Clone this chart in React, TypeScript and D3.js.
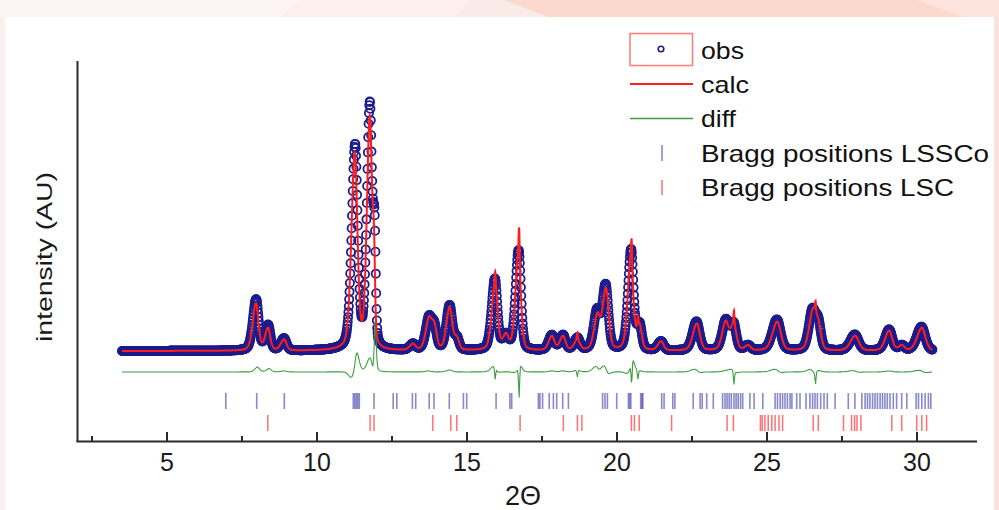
import React from "react";
import * as d3 from "d3";

// ---- data ----
const obsPeakPos = [7.97, 8.37, 8.9, 11.27, 11.76, 11.92, 13.2, 13.72, 13.9, 14.42, 14.66, 15.93, 16.3, 16.72, 17.83, 18.2, 18.68, 19.33, 19.62, 20.47, 20.75, 21.47, 22.65, 23.62, 23.88, 24.37, 25.33, 26.5, 26.7, 27.93, 29.07, 29.5, 30.15];
const obsPeakHeight = [51, 25, 12, 203, 243, 100, 6, 27, 25, 44, 12, 71, 14, 100, 15, 15, 12, 36, 65, 100, 25, 9, 29, 28, 27, 5, 31, 34, 30, 16, 21, 5, 24];
const obsPeakFwhm = [0.22, 0.2, 0.22, 0.23, 0.2, 0.1, 0.22, 0.22, 0.22, 0.22, 0.2, 0.22, 0.22, 0.21, 0.22, 0.22, 0.22, 0.22, 0.24, 0.21, 0.2, 0.22, 0.27, 0.24, 0.24, 0.22, 0.32, 0.24, 0.24, 0.32, 0.27, 0.22, 0.32];

const calcPeakPos = [7.965, 8.365, 8.9, 11.26, 11.76, 11.9, 13.2, 13.72, 13.9, 14.42, 14.66, 15.935, 15.94, 16.3, 16.715, 16.74, 17.83, 18.2, 18.68, 18.68, 19.34, 19.63, 20.46, 20.49, 20.75, 20.7, 21.47, 22.66, 23.62, 23.89, 23.9, 24.37, 25.34, 26.51, 26.7, 26.62, 27.94, 29.07, 29.5, 30.16];
const calcPeakHeight = [47, 22, 11, 195, 230, 72, 6, 26, 25, 42, 12, 66, 12, 14, 95, 32, 14, 14, 10, 7, 32, 61, 92, 24, 24, 9, 9, 27, 27, 25, 14, 5, 29, 33, 28, 12, 15, 20, 5, 23];
const calcPeakFwhm = [0.22, 0.2, 0.22, 0.23, 0.2, 0.09, 0.22, 0.22, 0.22, 0.22, 0.2, 0.22, 0.04, 0.22, 0.21, 0.04, 0.22, 0.22, 0.22, 0.04, 0.22, 0.24, 0.21, 0.04, 0.2, 0.04, 0.22, 0.27, 0.24, 0.24, 0.04, 0.22, 0.32, 0.24, 0.24, 0.04, 0.32, 0.27, 0.22, 0.32];

const braggLSSCo = [6.96, 7.99, 8.91, 11.21, 11.26, 11.31, 11.36, 11.41, 11.9, 12.54, 12.66, 13.18, 13.29, 13.74, 13.9, 14.41, 14.88, 14.99, 15.97, 16.43, 16.49, 17.38, 17.43, 17.52, 17.74, 17.88, 17.99, 18.19, 18.38, 19.52, 19.6, 19.68, 19.99, 20.38, 20.42, 20.46, 20.79, 20.83, 20.86, 21.49, 21.57, 21.86, 21.93, 22.54, 22.77, 22.84, 22.99, 23.21, 23.52, 23.6, 23.67, 23.74, 23.81, 23.9, 23.97, 24.04, 24.12, 24.19, 24.43, 24.57, 24.86, 25.27, 25.35, 25.44, 25.52, 25.6, 25.68, 25.77, 25.83, 25.99, 26.1, 26.3, 26.43, 26.52, 26.6, 26.68, 26.79, 26.9, 27.01, 27.27, 27.71, 27.93, 28.16, 28.27, 28.35, 28.43, 28.52, 28.6, 28.68, 28.77, 28.85, 28.93, 29.01, 29.1, 29.21, 29.32, 29.49, 29.66, 29.97, 30.05, 30.16, 30.27, 30.38, 30.46];
const braggLSC = [8.36, 11.77, 11.9, 13.86, 14.46, 14.66, 16.77, 18.21, 18.68, 18.83, 20.48, 20.58, 20.74, 21.82, 23.67, 23.88, 24.78, 24.84, 24.93, 25.04, 25.16, 25.27, 25.4, 25.52, 26.54, 26.71, 27.55, 27.82, 27.92, 28.0, 28.13, 29.16, 29.49, 29.99, 30.16, 30.32];

const xMajorTicks = [5, 10, 15, 20, 25, 30];
const xMinorTicks = [2.5, 7.5, 12.5, 17.5, 22.5, 27.5];
const scanStart = 3.5;
const scanEnd = 30.52;
const scanStep = 0.012;
const calcStep = 0.005;
const diffStep = 0.02;
const diffOffset = -21;

const legendLabels = ["obs", "calc", "diff", "Bragg positions LSSCo", "Bragg positions LSC"];

// ---- peak shape (asymmetric pseudo-Voigt) ----
const ETA = 0.32;
const ASYM_LOW = 1.15;
const ASYM_HIGH = 0.9;
function pv(x: number, pos: number, h: number, w: number) {
  const ww = x < pos ? w * ASYM_LOW : w * ASYM_HIGH;
  const t = (x - pos) / ww;
  const L = 1 / (1 + 4 * t * t);
  const G = Math.exp(-4 * Math.LN2 * t * t);
  return h * (ETA * L + (1 - ETA) * G);
}
function profile(x: number, pos: number[], hs: number[], ws: number[]) {
  let s = 0;
  for (let i = 0; i < pos.length; i++) s += pv(x, pos[i], hs[i], ws[i]);
  return s;
}

const W = 999, H = 510;
const x = d3.scaleLinear().domain([2, 32]).range([77, 977]);
const y = d3.scaleLinear().domain([-90, 290]).range([441, 61]);

const obsX = d3.range(scanStart, scanEnd, scanStep);
const obsY = obsX.map((v) => profile(v, obsPeakPos, obsPeakHeight, obsPeakFwhm));
const calcX = d3.range(scanStart, scanEnd, calcStep);
const calcY = calcX.map((v) => profile(v, calcPeakPos, calcPeakHeight, calcPeakFwhm));
const diffX = d3.range(scanStart, scanEnd, diffStep);
const diffY = diffX.map((v) => profile(v, obsPeakPos, obsPeakHeight, obsPeakFwhm) - profile(v, calcPeakPos, calcPeakHeight, calcPeakFwhm));

const calcLine = d3.line<number>().x((_, i) => x(calcX[i])).y((d) => y(d));
const diffLine = d3.line<number>().x((_, i) => x(diffX[i])).y((d) => y(d + diffOffset));

const NAVY = "#1c1c8c";
const RED = "#ff1e1e";
const GREEN = "#3f9e3f";
const FONT = "'Liberation Sans', Arial, sans-serif";

export default function App() {
  return (
    <svg width={W} height={H} style={{ position: "absolute", left: 0, top: 0 }} fontFamily={FONT}>
      {/* decorative frame */}
      <rect x={0} y={0} width={W} height={H} fill="#fcefec" />
      <polygon points="0,0 300,0 280,17 0,17" fill="#fdf5f3" />
      <polygon points="470,0 504,0 548,17 455,17" fill="#fbebe8" />
      <polygon points="504,0 918,0 963,17 548,17" fill="#fcd9cd" />
      <polygon points="918,0 999,0 999,17 963,17" fill="#fde4dc" />
      <rect x={994} y={17} width={5} height={493} fill="#fbe2dc" />
      <rect x={0} y={17} width={5} height={493} fill="#fcf0ee" />
      <rect x={5} y={17} width={989} height={493} fill="#ffffff" />

      {/* axes */}
      <line x1={77.5} y1={61} x2={77.5} y2={442} stroke="#2a2a2a" strokeWidth={2} />
      <line x1={76.5} y1={441.5} x2={977} y2={441.5} stroke="#2a2a2a" strokeWidth={2} />
      {xMajorTicks.map((t) => (
        <g key={"M" + t}>
          <line x1={x(t)} x2={x(t)} y1={441} y2={432} stroke="#2a2a2a" strokeWidth={2} />
          <text x={x(t)} y={471} textAnchor="middle" fontSize={25} fill="#1a1a1a">{t}</text>
        </g>
      ))}
      {xMinorTicks.map((t) => (
        <line key={"m" + t} x1={x(t)} x2={x(t)} y1={441} y2={436} stroke="#2a2a2a" strokeWidth={2} />
      ))}
      <text x={505} y={505} fontSize={27} fill="#1a1a1a">2Θ</text>
      <text transform="translate(52,257) rotate(-90)" textAnchor="middle" fontSize={22} fill="#1a1a1a" textLength={170} lengthAdjust="spacingAndGlyphs">intensity (AU)</text>

      {/* Bragg positions */}
      {braggLSSCo.map((b, i) => (
        <line key={"b" + i} x1={x(b)} x2={x(b)} y1={393} y2={409} stroke="#3a3aa6" strokeOpacity={0.6} strokeWidth={1.6} />
      ))}
      {braggLSC.map((b, i) => (
        <line key={"r" + i} x1={x(b)} x2={x(b)} y1={415} y2={431} stroke="#ff4d4d" strokeOpacity={0.8} strokeWidth={1.5} />
      ))}

      {/* obs circles */}
      <g fill="none" stroke={NAVY} strokeWidth={1.8}>
        {obsY.map((v, i) => (
          <circle key={i} cx={x(obsX[i])} cy={y(v)} r={4.1} />
        ))}
      </g>

      {/* diff */}
      <path d={diffLine(diffY) || ""} fill="none" stroke={GREEN} strokeWidth={1.1} />

      {/* calc */}
      <path d={calcLine(calcY) || ""} fill="none" stroke={RED} strokeWidth={2} />

      {/* legend */}
      <rect x={630} y={33.5} width={62.5} height={32} fill="#fff" stroke="#ff7a7a" strokeWidth={1.5} />
      <circle cx={661} cy={49} r={2.8} fill="none" stroke={NAVY} strokeWidth={1.6} />
      <line x1={630} x2={693} y1={84} y2={84} stroke={RED} strokeWidth={2} />
      <line x1={630} x2={693} y1={118.5} y2={118.5} stroke={GREEN} strokeWidth={1.5} />
      <line x1={662} x2={662} y1={145} y2={161} stroke="#3a3aa6" strokeOpacity={0.6} strokeWidth={1.6} />
      <line x1={662} x2={662} y1={180} y2={195} stroke="#ff4d4d" strokeOpacity={0.8} strokeWidth={1.5} />
      {legendLabels.map((l, i) => (
        <text key={l} x={701} y={[59, 93, 127, 162, 196][i]} fontSize={24} fill="#111"
          textLength={[43, 48, 35, 288, 253][i]} lengthAdjust="spacingAndGlyphs">{l}</text>
      ))}
    </svg>
  );
}
